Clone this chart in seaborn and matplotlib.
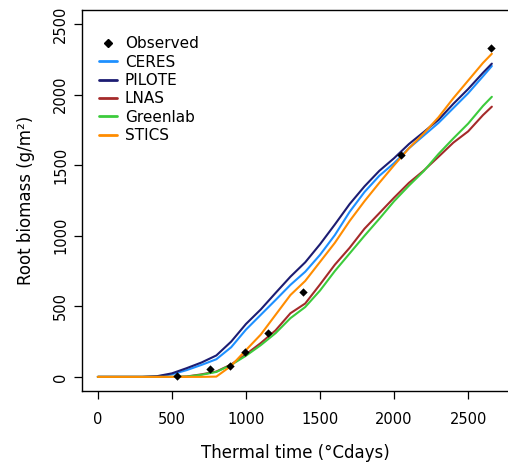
import matplotlib
matplotlib.use('Agg')
import matplotlib.pyplot as plt
import pandas as pd
import seaborn as sns

# thermal time grid (°Cdays) for the simulated curves
thermal = [0, 100, 200, 300, 400, 500, 600, 700, 800, 900, 1000, 1100, 1200, 1300,
           1400, 1500, 1600, 1700, 1800, 1900, 2000, 2100, 2200, 2300, 2400, 2500,
           2600, 2660]

ceres = [0, 0, 0, 0, 3, 18, 48, 85, 125, 210, 335, 440, 545, 652,
         745, 865, 1005, 1170, 1310, 1425, 1515, 1620, 1710, 1800, 1905, 2010,
         2130, 2203]
pilote = [0, 0, 0, 0, 5, 25, 62, 102, 152, 250, 375, 478, 595, 710,
          812, 940, 1080, 1225, 1350, 1460, 1550, 1650, 1735, 1822, 1935, 2040,
          2155, 2220]
lnas = [0, 0, 0, 0, 0, 0, 3, 18, 38, 88, 160, 240, 330, 451,
        520, 655, 795, 915, 1050, 1160, 1270, 1375, 1462, 1560, 1660, 1740,
        1855, 1915]
greenlab = [0, 0, 0, 0, 0, 0, 2, 15, 35, 85, 150, 225, 310, 416,
            495, 612, 750, 875, 1000, 1120, 1245, 1355, 1458, 1580, 1690, 1795,
            1920, 1985]
stics = [0, 0, 0, 0, 0, 0, 0, 0, 2, 78, 190, 300, 440, 580,
         680, 815, 950, 1105, 1245, 1375, 1500, 1620, 1725, 1840, 1975, 2100,
         2225, 2290]

obs_x = [531, 760, 891, 992, 1152, 1386, 2047, 2654]
obs_y = [5, 58, 80, 178, 309, 600, 1574, 2332]

models = ['CERES', 'PILOTE', 'LNAS', 'Greenlab', 'STICS']
colors = ['#1E90FF', '#1C1C72', '#A52A2A', '#3CCB3C', '#FF8C00']

sim = pd.DataFrame({'time': thermal * 5,
                    'biomass': ceres + pilote + lnas + greenlab + stics,
                    'model': sum([[m] * len(thermal) for m in models], [])})
obs = pd.DataFrame({'time': obs_x, 'biomass': obs_y})

sns.set_style('ticks')
plt.rcParams['font.family'] = ['DejaVu Sans']
plt.rcParams['text.color'] = 'black'
plt.rcParams['axes.labelcolor'] = 'black'
plt.rcParams['xtick.color'] = 'black'
plt.rcParams['ytick.color'] = 'black'

fig = plt.figure(figsize=(5.08, 4.66), dpi=100)
ax = fig.add_axes([82 / 508, 75 / 466, 430 / 508, 381 / 466])

sns.lineplot(data=sim, x='time', y='biomass', hue='model', hue_order=models,
             palette=colors, linewidth=1.5, ax=ax, legend=False)
sns.scatterplot(data=obs, x='time', y='biomass', marker='D', color='black',
                s=18, linewidth=0, ax=ax, zorder=5)

ax.set_xlim(-107, 2796)
ax.set_ylim(-100, 2600)
ax.set_xticks([0, 500, 1000, 1500, 2000, 2500])
ax.set_yticks([0, 500, 1000, 1500, 2000, 2500])
for s in ax.spines.values():
    s.set_linewidth(1.0)
    s.set_color('black')
ax.spines['right'].set_visible(False)  # box runs off the right edge
ax.tick_params(axis='both', labelsize=10.5, length=6, width=0.9)
ax.tick_params(axis='x', pad=9)
ax.tick_params(axis='y', pad=4)
for lab in ax.get_yticklabels():
    lab.set_rotation(90)
    lab.set_va('center')

ax.set_xlabel('Thermal time (°Cdays)', fontsize=12)
ax.set_ylabel('Root biomass (g/m²)', fontsize=12)
ax.xaxis.set_label_coords(0.497, -0.163)
ax.xaxis.label.set_va('center')
ax.yaxis.set_label_coords(-0.130, 0.5)
ax.yaxis.label.set_va('center')

# legend: observed first then the models
handles = [plt.Line2D([], [], marker='D', color='black', linestyle='none', markersize=4)]
handles += [plt.Line2D([], [], color=c, linewidth=2) for c in colors]
ax.legend(handles, ['Observed'] + models, loc='upper left',
          bbox_to_anchor=(0.021, 0.951), frameon=False, fontsize=11,
          handlelength=1.2, handletextpad=0.5, labelspacing=0.22, borderpad=0)

fig.savefig('out.png', dpi=100)
